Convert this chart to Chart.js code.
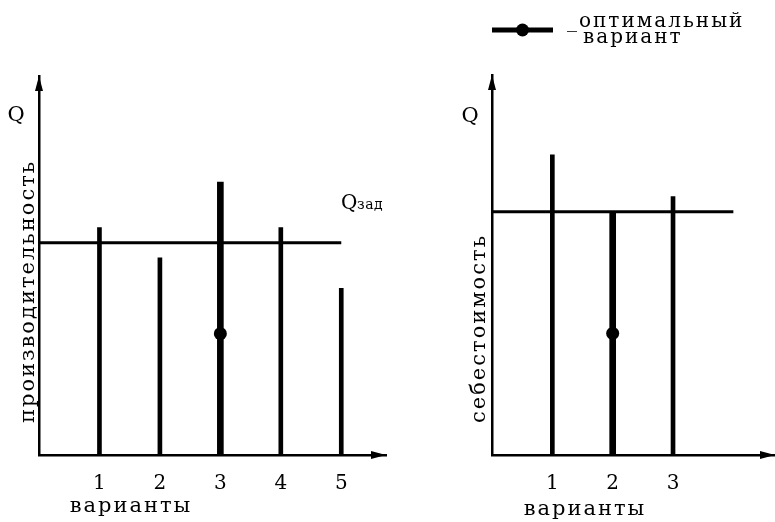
<!DOCTYPE html>
<html lang="ru">
<head>
<meta charset="utf-8">
<script src="https://cdn.jsdelivr.net/npm/chart.js@4.4.1/dist/chart.umd.min.js"></script>
<style>
  html, body { margin: 0; padding: 0; background: #fff; overflow: hidden; }
  #wrap { position: relative; width: 775px; height: 522px; }
  .box { position: absolute; top: 0; height: 522px; }
  #left { left: 0; width: 440px; }
  #right { left: 440px; width: 335px; }
</style>
</head>
<body>
<div id="wrap">
  <div class="box" id="left"><canvas id="perf"></canvas></div>
  <div class="box" id="right"><canvas id="cost"></canvas></div>
</div>
<script>
// производительность по вариантам
const perfVariants = [1, 2, 3, 4, 5];
const perfValues = [60, 52, 72, 60, 44];
const perfOptimal = 3;
const perfTarget = 56;      // Qзад

// себестоимость по вариантам
const costVariants = [1, 2, 3];
const costValues = [79, 64, 68];
const costOptimal = 2;
const costTarget = 64;

const optimalMark = 32;     // точка на оптимальном варианте

const SERIF = '"DejaVu Serif", "Liberation Serif", serif';

function drawText(ctx, t) {
  ctx.save();
  ctx.font = (t.size || 20) + 'px ' + SERIF;
  ctx.letterSpacing = (t.spacing != null ? t.spacing : 2) + 'px';
  ctx.fillStyle = '#000';
  ctx.textAlign = t.align || 'left';
  ctx.textBaseline = t.baseline || 'alphabetic';
  ctx.translate(t.x, t.y);
  if (t.rotate) ctx.rotate(-Math.PI / 2);
  ctx.fillText(t.text, 0, 0);
  ctx.restore();
}

const decor = {
  id: 'decor',
  afterDraw(chart, args, o) {
    const { ctx, chartArea: a } = chart;
    ctx.save();
    ctx.fillStyle = '#000';
    // стрелки осей
    ctx.beginPath();
    ctx.moveTo(a.right, a.bottom);
    ctx.lineTo(a.right - 15, a.bottom - 4);
    ctx.lineTo(a.right - 15, a.bottom + 4);
    ctx.closePath();
    ctx.fill();
    ctx.beginPath();
    ctx.moveTo(a.left, a.top);
    ctx.lineTo(a.left - 4, a.top + 15);
    ctx.lineTo(a.left + 4, a.top + 15);
    ctx.closePath();
    ctx.fill();

    if (o.legend) {
      const L = o.legend;
      ctx.strokeStyle = '#000';
      ctx.lineWidth = 5;
      ctx.beginPath();
      ctx.moveTo(L.x0, L.y);
      ctx.lineTo(L.x1, L.y);
      ctx.stroke();
      ctx.beginPath();
      ctx.arc((L.x0 + L.x1) / 2, L.y, 6.5, 0, Math.PI * 2);
      ctx.fill();
    }
    ctx.restore();
    (o.texts || []).forEach(t => drawText(ctx, t));
  }
};

function makeChart(id, variants, values, optimal, target, extra) {
  const optBar = [];
  const bars = [];
  variants.forEach((v, i) => {
    (v === optimal ? optBar : bars).push({ x: v, y: values[i] });
  });
  return new Chart(document.getElementById(id), {
    type: 'bar',
    data: {
      datasets: [
        {
          type: 'scatter',
          data: [{ x: optimal, y: optimalMark }],
          pointRadius: 6.5,
          pointBackgroundColor: '#000',
          pointBorderWidth: 0,
          order: 0,
        },
        {
          type: 'line',
          data: [{ x: 0, y: target }, { x: extra.lineEnd, y: target }],
          borderColor: '#000',
          borderWidth: 3,
          pointRadius: 0,
          order: 1,
        },
        {
          data: optBar,
          backgroundColor: '#000',
          barThickness: 6,
          grouped: false,
          order: 2,
        },
        {
          data: bars,
          backgroundColor: '#000',
          barThickness: 4,
          grouped: false,
          order: 3,
        },
      ],
    },
    options: {
      responsive: true,
      maintainAspectRatio: false,
      animation: false,
      events: [],
      layout: {
        autoPadding: false,
        padding: { top: extra.top, right: extra.right, left: 0, bottom: 0 },
      },
      scales: {
        x: {
          type: 'linear',
          offset: false,
          min: 0,
          max: extra.xMax,
          afterBuildTicks: s => { s.ticks = variants.map(v => ({ value: v })); },
          afterFit: s => { s.height = 67; s.paddingLeft = 0; s.paddingRight = 0; },
          grid: { display: false },
          border: { display: true, color: '#000', width: 2.5 },
          ticks: {
            color: '#000',
            font: { family: SERIF, size: 20 },
            padding: 9,
            maxRotation: 0,
            autoSkip: false,
          },
        },
        y: {
          min: 0,
          max: 100,
          afterFit: s => { s.width = extra.yWidth; },
          grid: { display: false },
          border: { display: true, color: '#000', width: 2.5 },
          ticks: { display: false },
        },
      },
      plugins: {
        legend: { display: false },
        tooltip: { enabled: false },
        decor: { texts: extra.texts, legend: extra.legend },
      },
    },
    plugins: [decor],
  });
}

makeChart('perf', perfVariants, perfValues, perfOptimal, perfTarget, {
  xMax: 5.74, lineEnd: 5, top: 76, right: 54, yWidth: 39,
  texts: [
    { text: 'Q', x: 16, y: 121, align: 'center', spacing: 0, size: 21 },
    { text: 'производительность', x: 28.5, y: 423, rotate: true, baseline: 'middle', size: 21 },
    { text: 'варианты', x: 131, y: 512, align: 'center', size: 21 },
    { text: 'Q', x: 341, y: 209, size: 20, spacing: 0 },
    { text: 'зад', x: 357, y: 209, size: 14, spacing: 0.5 },
  ],
});

makeChart('cost', costVariants, costValues, costOptimal, costTarget, {
  xMax: 4.69, lineEnd: 4, top: 75, right: 0, yWidth: 52,
  legend: { x0: 52, x1: 113, y: 30 },
  texts: [
    { text: 'Q', x: 30, y: 122, align: 'center', spacing: 0, size: 21 },
    { text: 'себестоимость', x: 40, y: 423, rotate: true, baseline: 'middle', size: 21 },
    { text: 'варианты', x: 145, y: 515, align: 'center', size: 21 },
    { text: '_оптимальный', x: 127, y: 27, size: 20 },
    { text: 'вариант', x: 143, y: 43, size: 20 },
  ],
});
</script>
</body>
</html>
